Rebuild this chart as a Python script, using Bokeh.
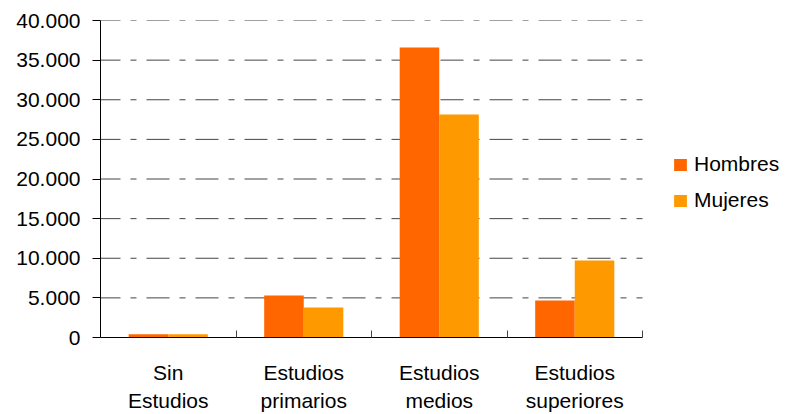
import numpy as np
from bokeh.plotting import figure
from bokeh.models import Range1d, FixedTicker, Legend, LegendItem, ColumnDataSource
from bokeh.transform import dodge
from bokeh.embed import file_html
from bokeh.resources import INLINE

categories = ["Sin\nEstudios", "Estudios\nprimarios", "Estudios\nmedios", "Estudios\nsuperiores"]
hombres = [400, 5300, 36600, 4670]
mujeres = [400, 3800, 28150, 9720]
y_ticks = [0, 5000, 10000, 15000, 20000, 25000, 30000, 35000, 40000]

FONT = "Liberation Sans"
FS = "21px"

# layout: plot area for the categories spans 542 px, legend sits to its right inside the frame
W, H = 801, 414
LEFT, TOP, BOTTOM = 100, 20, 77
CAT_PX = 542
frame_px = W - LEFT
n = len(categories)
x_end = n * frame_px / CAT_PX

x_pos = np.arange(n) + 0.5
src = ColumnDataSource(dict(x=x_pos, h=hombres, m=mujeres))
grid_src = ColumnDataSource(dict(y=y_ticks, x0=[0] * len(y_ticks), x1=[n] * len(y_ticks)))

p = figure(width=W, height=H, output_backend="svg", toolbar_location=None,
           x_range=Range1d(0, x_end), y_range=Range1d(0, 40000),
           min_border_left=LEFT, min_border_right=0, min_border_top=TOP, min_border_bottom=BOTTOM)
p.outline_line_color = None
p.background_fill_color = "white"
p.border_fill_color = "white"
p.xgrid.grid_line_color = None
p.ygrid.grid_line_color = None

# dashed horizontal grid, limited to the category area
p.segment(x0="x0", x1="x1", y0="y", y1="y", source=grid_src,
          line_color="#444444", line_width=1, line_dash="23 10 6 10", line_dash_offset=3)

bw = 0.292
r1 = p.vbar(x=dodge("x", -bw / 2, range=p.x_range), top="h", width=bw, source=src,
            fill_color="#FF6600", line_color=None)
r2 = p.vbar(x=dodge("x", bw / 2, range=p.x_range), top="m", width=bw, source=src,
            fill_color="#FF9900", line_color=None)

# x axis
p.xaxis.bounds = (0, n)
p.xaxis.ticker = FixedTicker(ticks=list(x_pos), minor_ticks=list(range(1, n + 1)))
p.xaxis.major_label_overrides = {float(v): c for v, c in zip(x_pos, categories)}
p.xaxis.major_tick_line_color = None
p.xaxis.minor_tick_in = 7
p.xaxis.minor_tick_out = 0
p.xaxis.minor_tick_line_color = "#444444"
p.xaxis.axis_line_color = "black"
p.xaxis.major_label_text_font = FONT
p.xaxis.major_label_text_font_size = FS
p.xaxis.major_label_text_color = "black"
p.xaxis.major_label_standoff = 17
p.xaxis.major_label_text_line_height = 1.22

# y axis
p.yaxis.ticker = FixedTicker(ticks=y_ticks, minor_ticks=[])
p.yaxis.major_label_overrides = {v: f"{v:,}".replace(",", ".") for v in y_ticks}
p.yaxis.major_tick_out = 8
p.yaxis.major_tick_in = 0
p.yaxis.major_tick_line_color = "black"
p.yaxis.axis_line_color = "black"
p.yaxis.major_label_text_font = FONT
p.yaxis.major_label_text_font_size = FS
p.yaxis.major_label_text_color = "black"
p.yaxis.major_label_standoff = 12

legend = Legend(items=[LegendItem(label="Hombres", renderers=[r1]),
                       LegendItem(label="Mujeres", renderers=[r2])],
                location=(CAT_PX + 30, 125), orientation="vertical")
legend.border_line_color = None
legend.background_fill_alpha = 0
legend.margin = 0
legend.padding = 0
legend.glyph_width = 16
legend.glyph_height = 15
legend.label_standoff = 6
legend.spacing = 12
legend.label_text_font = FONT
legend.label_text_font_size = FS
legend.label_text_color = "black"
p.add_layout(legend, "center")

open("out.html", "w").write(file_html(p, INLINE))
